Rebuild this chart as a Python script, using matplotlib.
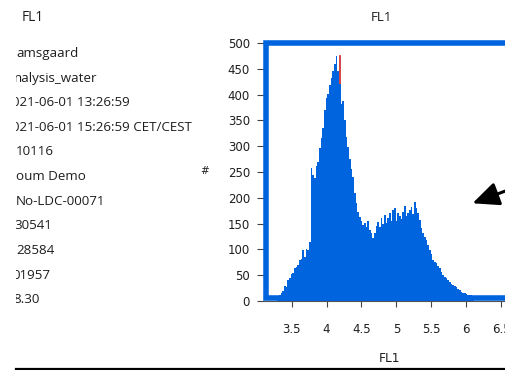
import numpy as np
import matplotlib
matplotlib.use("Agg")
import matplotlib.pyplot as plt
from matplotlib.lines import Line2D

W, H = 505, 370

# ---------------- data ----------------
fl1_first_center = 3.3085
fl1_bin_width = 0.02388
counts = [
    10, 12, 15, 20, 30, 28, 40, 45, 52, 55,
    63, 66, 70, 80, 82, 98, 85, 100, 98, 115,
    258, 245, 238, 262, 270, 296, 315, 335, 370, 393,
    402, 418, 432, 445, 460, 474, 445, 474, 382, 388,
    350, 318, 298, 275, 255, 240, 209, 189, 172, 163,
    155, 147, 152, 143, 156, 137, 131, 122, 132, 145,
    153, 144, 160, 150, 167, 152, 160, 170, 155, 176,
    181, 155, 170, 165, 158, 173, 185, 165, 170, 176,
    182, 168, 191, 180, 170, 157, 141, 131, 125, 118,
    109, 99, 92, 80, 76, 73, 67, 63, 57, 50,
    47, 44, 40, 37, 33, 31, 29, 27, 23, 21,
    18, 16, 15, 14, 12, 12, 11, 10,
]
peak_x = 4.19
peak_range = (420, 476)
gate_x = [7.6, 3.14, 3.14, 7.6]
gate_y = [5.4, 5.4, 500, 500]

xticks = [3.5, 4, 4.5, 5, 5.5, 6, 6.5, 7]
xticklabels = ["3.5", "4", "4.5", "5", "5.5", "6", "6.5", "7"]
yticks = [0, 50, 100, 150, 200, 250, 300, 350, 400, 450, 500]

info_lines = [
    ("amsgaard", 0.0),
    ("nalysis_water", -2.0),
    ("021-06-01 13:26:59", -3.8),
    ("021-06-01 15:26:59 CET/CEST", -3.8),
    ("10116", 0.0),
    ("oum Demo", -0.5),
    ("No-LDC-00071", -0.5),
    ("30541", -1.5),
    ("28584", 0.0),
    ("01957", -3.8),
    ("8.30", -2.7),
]

BLUE = "#0064DE"
TXT = "#1E1E1E"
SANS = ["Open Sans", "DejaVu Sans"]

fig = plt.figure(figsize=(W / 100, H / 100), dpi=100)
fig.patch.set_facecolor("white")

# ---------------- histogram axes ----------------
ax_left, ax_bottom = 263.7, 301.0
px_per_x = 69.8
xlim = (3.1, 7.0)
ax_w = (xlim[1] - xlim[0]) * px_per_x
ax_h = 258.0
ax = fig.add_axes([ax_left / W, (H - ax_bottom) / H, ax_w / W, ax_h / H])
ax.set_xlim(*xlim)
ax.set_ylim(0, 500)

counts = np.array(counts)
edges = fl1_first_center - fl1_bin_width / 2 + fl1_bin_width * np.arange(len(counts) + 1)
ax.stairs(counts, edges, fill=True, color=BLUE, linewidth=0)
ax.vlines(peak_x, *peak_range, color="#E8473A", lw=1.3, zorder=3)
ax.plot(gate_x, gate_y, color=BLUE, lw=4.0, solid_joinstyle="miter",
        solid_capstyle="butt", clip_on=False, zorder=4)

for s in ["top", "right", "left"]:
    ax.spines[s].set_visible(False)
ax.spines["bottom"].set_color("#555555")
ax.spines["bottom"].set_linewidth(0.8)

ax.set_xticks(xticks)
ax.set_xticklabels(xticklabels)
ax.set_yticks(yticks)
ax.tick_params(axis="y", length=5, width=0.8, color="#444444", pad=4.8,
               labelsize=8.5, labelcolor=TXT)
ax.tick_params(axis="x", length=4, width=0.8, color="#444444", pad=11.5,
               labelsize=8.5, labelcolor=TXT)

ax.set_xlabel("FL1", fontsize=8.7, color=TXT)
ax.xaxis.set_label_coords((389 - ax_left) / ax_w, (ax_bottom - 362.5) / ax_h)
ax.xaxis.label.set_va("baseline")
ax.set_ylabel("#", fontsize=7.5, color=TXT, rotation=0, ha="center", va="center")
ax.yaxis.set_label_coords((204.3 - ax_left) / ax_w, (ax_bottom - 171.5) / ax_h)

ax.text((381.7 - ax_left) / ax_w, (ax_bottom - 20.7) / ax_h, "FL1",
        transform=ax.transAxes, ha="center", va="baseline",
        fontsize=9.6, family=SANS, color=TXT)

# arrow
ax.annotate("", xy=(472.5, H - 203.3), xycoords="figure pixels",
            xytext=(530, H - 181.8), textcoords="figure pixels",
            arrowprops=dict(arrowstyle="-|>,head_length=0.8,head_width=0.36",
                            lw=2.2, color="black", mutation_scale=20,
                            shrinkA=0, shrinkB=0),
            annotation_clip=False)

# ---------------- left info panel (clipped) ----------------
tx = fig.add_axes([16 / W, 0, 220 / W, 1])
tx.axis("off")
tx.set_xlim(16, 236)
tx.set_ylim(H, 0)
tx.text(22.0, 20.7, "FL1", fontsize=9.8, family=SANS,
        color=TXT, va="baseline", ha="left", clip_on=False)
for i, (s, dx) in enumerate(info_lines):
    tx.text(16 + dx, 56.9 + 24.64 * i, s, fontsize=9.6,
            family=SANS, color=TXT,
            va="baseline", ha="left", clip_on=True)

# bottom rule
fig.add_artist(Line2D([16 / W, 1.0], [(H - 368.8) / H] * 2, lw=1.6, color="black"))

fig.savefig("out.png", dpi=100, facecolor="white")
